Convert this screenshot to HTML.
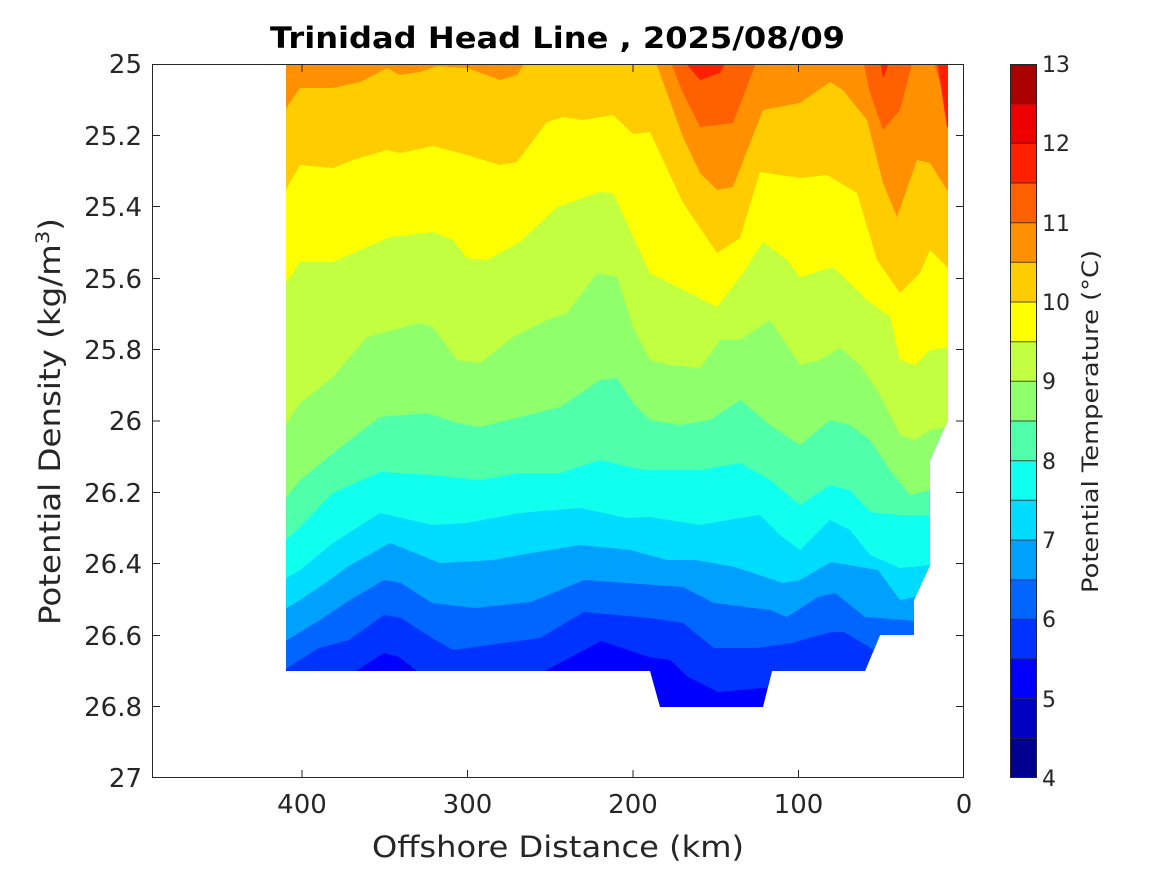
<!DOCTYPE html>
<html><head><meta charset="utf-8"><style>
html,body{margin:0;padding:0;background:#fff;}
svg{display:block;font-family:"DejaVu Sans","Liberation Sans",sans-serif;}
</style></head><body>
<svg width="1167" height="875" viewBox="0 0 1167 875" xmlns="http://www.w3.org/2000/svg">
<defs>
<clipPath id="d"><polygon points="286,64 948,64 948,420 930,460 930,565 914,600 914,635 880,635 865,671 772,671 763,707 660,707 650,671 286,671"/></clipPath>
</defs>
<rect x="0" y="0" width="1167" height="875" fill="#fff"/>
<g clip-path="url(#d)">
<rect x="280" y="60" width="690" height="660" fill="#0000ff"/>
<polygon fill="#0033ff" points="280,671 356,671 384,653 399,657 417,671 545,671 601,641 649,657 670,660 688,677 718,692 774,687 783,671 960,671 960,60 280,60"/>
<polygon fill="#0066ff" points="280,671 284,670 319,648 349,640 384,615 401,618 432,638 453,650 540,638 584,612 649,618 683,623 714,648 757,648 792,643 831,632 844,632 874,650 960,660 960,60 280,60"/>
<polygon fill="#00a0ff" points="280,642 284,642 320,620 350,600 384,580 401,583 432,603 475,608 531,602 584,580 683,587 714,603 770,610 787,617 818,597 835,593 865,617 904,620 960,625 960,60 280,60"/>
<polygon fill="#00dcff" points="280,612 300,600 330,580 347,567 390,543 440,563 493,560 520,555 580,545 630,550 667,560 696,560 735,567 783,583 800,580 831,562 878,570 900,600 915,597 960,597 960,60 280,60"/>
<polygon fill="#10ffee" points="280,582 300,570 333,543 380,513 433,525 467,523 520,513 580,508 627,518 650,517 700,525 740,518 760,515 780,535 800,550 830,520 850,530 870,555 900,568 930,565 960,565 960,60 280,60"/>
<polygon fill="#50ffaa" points="280,545 300,527 333,493 380,472 433,475 480,480 520,473 560,473 600,460 633,468 650,470 700,470 740,463 770,480 800,505 830,485 850,490 870,512 900,515 930,515 960,515 960,60 280,60"/>
<polygon fill="#90ff6c" points="280,505 300,480 333,453 380,417 427,413 457,423 480,427 520,417 560,407 600,380 617,378 633,403 650,420 680,425 710,420 740,400 770,425 800,445 830,420 850,425 870,440 890,470 910,495 930,490 960,480 960,60 280,60"/>
<polygon fill="#c2ff40" points="280,433 300,403 333,377 367,337 420,323 433,327 457,360 480,363 513,337 547,320 567,313 597,273 617,277 633,327 650,360 670,365 700,368 720,340 740,340 770,320 800,365 820,360 840,348 860,365 880,395 900,435 915,440 930,430 960,425 960,60 280,60"/>
<polygon fill="#ffff00" points="280,292 300,262 333,262 390,237 433,232 453,240 467,258 487,260 520,242 557,207 600,192 613,193 650,273 717,307 743,273 763,242 787,260 800,277 833,267 867,300 890,317 900,360 915,365 930,350 960,345 960,60 280,60"/>
<polygon fill="#ffcc00" points="280,200 300,165 333,168 353,160 387,150 400,153 433,146 467,155 500,165 517,162 547,122 563,117 583,120 613,115 633,134 650,132 683,203 717,253 740,238 760,172 800,178 827,175 857,193 877,260 900,293 920,273 930,250 947,267 960,275 960,60 280,60"/>
<polygon fill="#ff9000" points="280,113 285,110 300,88 333,88 360,82 387,68 400,75 420,72 437,66 467,68 500,80 517,75 527,60 655,60 667,93 683,137 700,173 717,190 733,187 750,143 763,110 800,103 830,82 843,90 867,120 883,183 897,217 917,160 930,163 947,190 960,195 960,60 280,60"/>
<polygon fill="#ff6000" points="670,60 683,93 700,127 733,123 743,97 757,60 863,60 870,93 883,130 900,110 913,60 933,60 947,105 960,110 960,60"/>
<polygon fill="#ff2000" points="683,60 700,80 720,73 727,60 880,60 883,78 890,60 937,60 947,127 960,130 960,60"/>
</g>
<rect x="152.5" y="64.5" width="811" height="713" fill="none" stroke="#262626" stroke-width="1"/>
<g stroke="#262626" stroke-width="1">
<line x1="302" y1="778" x2="302" y2="770"/><line x1="467.5" y1="778" x2="467.5" y2="770"/><line x1="633" y1="778" x2="633" y2="770"/><line x1="798.5" y1="778" x2="798.5" y2="770"/>
<line x1="302" y1="64" x2="302" y2="72"/><line x1="467.5" y1="64" x2="467.5" y2="72"/><line x1="633" y1="64" x2="633" y2="72"/><line x1="798.5" y1="64" x2="798.5" y2="72"/>
<line x1="152" y1="135.5" x2="160" y2="135.5"/><line x1="152" y1="206.5" x2="160" y2="206.5"/><line x1="152" y1="278.5" x2="160" y2="278.5"/><line x1="152" y1="349.5" x2="160" y2="349.5"/><line x1="152" y1="421" x2="160" y2="421"/><line x1="152" y1="492.5" x2="160" y2="492.5"/><line x1="152" y1="563.5" x2="160" y2="563.5"/><line x1="152" y1="635.5" x2="160" y2="635.5"/><line x1="152" y1="706.5" x2="160" y2="706.5"/>
<line x1="964" y1="135.5" x2="956" y2="135.5"/><line x1="964" y1="206.5" x2="956" y2="206.5"/><line x1="964" y1="278.5" x2="956" y2="278.5"/><line x1="964" y1="349.5" x2="956" y2="349.5"/><line x1="964" y1="421" x2="956" y2="421"/><line x1="964" y1="492.5" x2="956" y2="492.5"/><line x1="964" y1="563.5" x2="956" y2="563.5"/><line x1="964" y1="635.5" x2="956" y2="635.5"/><line x1="964" y1="706.5" x2="956" y2="706.5"/>
</g>
<g fill="#262626" font-size="26" text-anchor="end">
<text x="142" y="73">25</text><text x="142" y="145">25.2</text><text x="142" y="216">25.4</text><text x="142" y="288">25.6</text><text x="142" y="359">25.8</text><text x="142" y="430">26</text><text x="142" y="502">26.2</text><text x="142" y="573">26.4</text><text x="142" y="645">26.6</text><text x="142" y="716">26.8</text><text x="142" y="787">27</text>
</g>
<g fill="#262626" font-size="26" text-anchor="middle">
<text x="302" y="813">400</text><text x="467.5" y="813">300</text><text x="633" y="813">200</text><text x="798.5" y="813">100</text><text x="964" y="813">0</text>
</g>
<text x="372" y="857" font-size="29" fill="#262626" textLength="372" lengthAdjust="spacingAndGlyphs">Offshore Distance (km)</text>
<text x="270" y="48" font-size="29" font-weight="bold" fill="#000" textLength="575" lengthAdjust="spacingAndGlyphs">Trinidad Head Line , 2025/08/09</text>
<text transform="translate(60,625) rotate(-90)" font-size="29" fill="#262626" textLength="407" lengthAdjust="spacingAndGlyphs">Potential Density (kg/m<tspan baseline-shift="super" font-size="19">3</tspan>)</text>
<g>
<rect x="1010" y="738.3" width="27" height="39.7" fill="#000090"/>
<rect x="1010" y="698.7" width="27" height="39.7" fill="#0000c0"/>
<rect x="1010" y="659" width="27" height="39.7" fill="#0000ff"/>
<rect x="1010" y="619.3" width="27" height="39.7" fill="#0033ff"/>
<rect x="1010" y="579.7" width="27" height="39.7" fill="#0066ff"/>
<rect x="1010" y="540" width="27" height="39.7" fill="#00a0ff"/>
<rect x="1010" y="500.3" width="27" height="39.7" fill="#00dcff"/>
<rect x="1010" y="460.7" width="27" height="39.7" fill="#10ffee"/>
<rect x="1010" y="421" width="27" height="39.7" fill="#50ffaa"/>
<rect x="1010" y="381.3" width="27" height="39.7" fill="#90ff6c"/>
<rect x="1010" y="341.7" width="27" height="39.7" fill="#c2ff40"/>
<rect x="1010" y="302" width="27" height="39.7" fill="#ffff00"/>
<rect x="1010" y="262.3" width="27" height="39.7" fill="#ffcc00"/>
<rect x="1010" y="222.7" width="27" height="39.7" fill="#ff9000"/>
<rect x="1010" y="183" width="27" height="39.7" fill="#ff6000"/>
<rect x="1010" y="143.3" width="27" height="39.7" fill="#ff2000"/>
<rect x="1010" y="103.7" width="27" height="39.7" fill="#ee0000"/>
<rect x="1010" y="64" width="27" height="39.7" fill="#aa0000"/>
</g>
<g stroke="#262626" stroke-width="1" opacity="0.8">
<line x1="1010" y1="738.3" x2="1037" y2="738.3"/><line x1="1010" y1="698.7" x2="1037" y2="698.7"/><line x1="1010" y1="659" x2="1037" y2="659"/><line x1="1010" y1="619.3" x2="1037" y2="619.3"/><line x1="1010" y1="579.7" x2="1037" y2="579.7"/><line x1="1010" y1="540" x2="1037" y2="540"/><line x1="1010" y1="500.3" x2="1037" y2="500.3"/><line x1="1010" y1="460.7" x2="1037" y2="460.7"/><line x1="1010" y1="421" x2="1037" y2="421"/><line x1="1010" y1="381.3" x2="1037" y2="381.3"/><line x1="1010" y1="341.7" x2="1037" y2="341.7"/><line x1="1010" y1="302" x2="1037" y2="302"/><line x1="1010" y1="262.3" x2="1037" y2="262.3"/><line x1="1010" y1="222.7" x2="1037" y2="222.7"/><line x1="1010" y1="183" x2="1037" y2="183"/><line x1="1010" y1="143.3" x2="1037" y2="143.3"/><line x1="1010" y1="103.7" x2="1037" y2="103.7"/>
</g>
<rect x="1010.5" y="64.5" width="26" height="713" fill="none" stroke="#262626" stroke-width="1"/>
<g fill="#262626" font-size="22">
<text x="1042" y="786">4</text><text x="1042" y="707">5</text><text x="1042" y="627">6</text><text x="1042" y="548">7</text><text x="1042" y="469">8</text><text x="1042" y="389">9</text><text x="1042" y="310">10</text><text x="1042" y="231">11</text><text x="1042" y="151">12</text><text x="1042" y="72">13</text>
</g>
<text transform="translate(1098,593) rotate(-90)" font-size="22" fill="#262626" textLength="343" lengthAdjust="spacingAndGlyphs">Potential Temperature (°C)</text>
</svg>
</body></html>
